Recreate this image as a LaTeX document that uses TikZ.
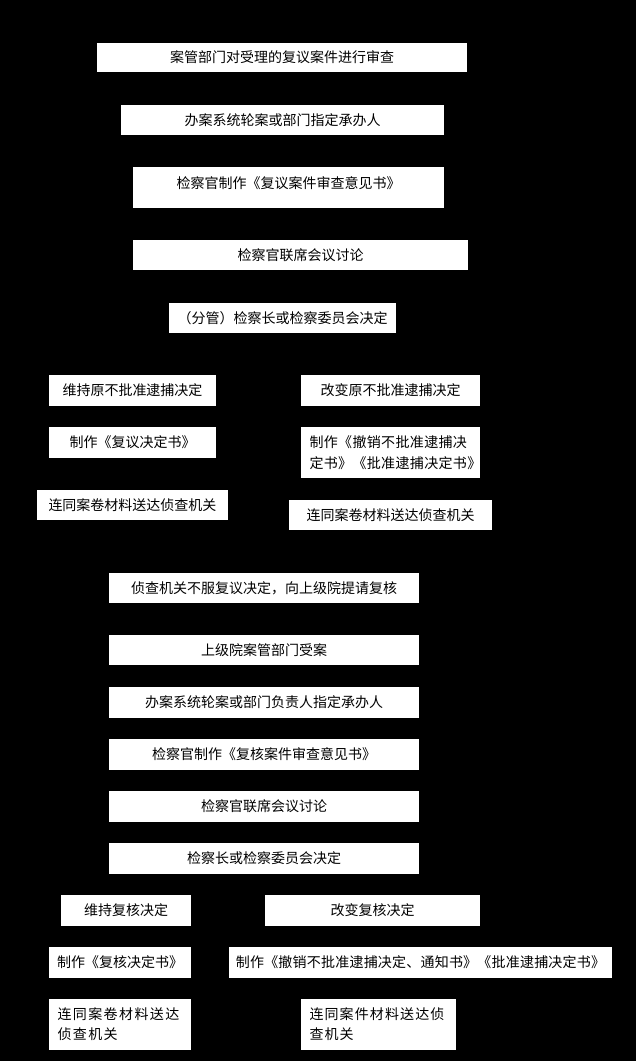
\documentclass[tikz,border=0pt]{standalone}
\usepackage{fontspec}
\setmainfont{Noto Sans CJK SC}
\newcommand{\fs}{\fontsize{14pt}{17pt}\selectfont}
\newcommand{\fsml}{\fontsize{14pt}{21pt}\selectfont}
\newcommand{\fsmlb}{\fontsize{14pt}{20pt}\selectfont}
\begin{document}
\begin{tikzpicture}[x=1pt,y=1pt,
  box/.style={fill=white, draw=none, inner sep=0pt, font=\fs, text=black, align=center},
  mbox/.style={fill=white, draw=none, inner ysep=0pt, text=black, align=left}]
\fill[black] (0,0) rectangle (636,-1061);
\useasboundingbox (0,0) rectangle (636,-1061);
% upper part
\node[box, minimum width=370, minimum height=29] (n1) at (282,-57.5) {案管部门对受理的复议案件进行审查};
\node[box, minimum width=323, minimum height=30] (n2) at (282.5,-120) {办案系统轮案或部门指定承办人};
\node[box, minimum width=311, text height=21.3pt, text depth=19.7pt] (n3) at (288.5,-187.5) {检察官制作《复议案件审查意见书》};
\node[box, minimum width=335, minimum height=30] (n4) at (300.5,-255) {检察官联席会议讨论};
\node[box, minimum width=227, minimum height=30] (n5) at (282.5,-318) {（分管）检察长或检察委员会决定};
\node[box, minimum width=167, minimum height=31] (n6) at (132.5,-390.5) {维持原不批准逮捕决定};
\node[box, minimum width=179, minimum height=31] (n7) at (390.5,-390.5) {改变原不批准逮捕决定};
\node[box, minimum width=167, minimum height=31] (n8) at (132.5,-442.5) {制作《复议决定书》};
\node[mbox, inner xsep=8.5pt, text width=162pt, minimum width=179, minimum height=51,
  font=\fsml\addfontfeature{LetterSpace=2.5}] (n9) at (390.5,-452.5) {制作《撤销不批准逮捕决\\定书》《批准逮捕决定书》};
\node[box, minimum width=191, minimum height=30] (n10) at (132.5,-505) {连同案卷材料送达侦查机关};
\node[box, minimum width=203, minimum height=30] (n11) at (390.5,-515) {连同案卷材料送达侦查机关};
% lower part
\node[box, minimum width=310, minimum height=30] (n12) at (264,-588) {侦查机关不服复议决定，向上级院提请复核};
\node[box, minimum width=310, minimum height=30] (n13) at (264,-650) {上级院案管部门受案};
\node[box, minimum width=310, minimum height=31] (n14) at (264,-702.5) {办案系统轮案或部门负责人指定承办人};
\node[box, minimum width=310, minimum height=31] (n15) at (264,-754.5) {检察官制作《复核案件审查意见书》};
\node[box, minimum width=310, minimum height=31] (n16) at (264,-806.5) {检察官联席会议讨论};
\node[box, minimum width=310, minimum height=31] (n17) at (264,-858.5) {检察长或检察委员会决定};
\node[box, minimum width=130, minimum height=31] (n18) at (126,-910.5) {维持复核决定};
\node[box, minimum width=215, minimum height=31] (n19) at (372.5,-910.5) {改变复核决定};
\node[box, minimum width=142, minimum height=31] (n20) at (120,-962.5) {制作《复核决定书》};
\node[box, minimum width=383, minimum height=31, font=\fs\addfontfeature{LetterSpace=1.5}] (n21) at (420.5,-962.5) {制作《撤销不批准逮捕决定、通知书》《批准逮捕决定书》};
\node[mbox, inner xsep=8.5pt, text width=125pt, minimum width=142, minimum height=51,
  font=\fsmlb\addfontfeature{LetterSpace=10}] (n22) at (120,-1024.5) {连同案卷材料送达\\侦查机关};
\node[mbox, inner xsep=8.5pt, text width=138pt, minimum width=155, minimum height=51,
  font=\fsmlb\addfontfeature{LetterSpace=8}] (n23) at (378.5,-1024.5) {连同案件材料送达侦\\查机关};
\end{tikzpicture}
\end{document}
